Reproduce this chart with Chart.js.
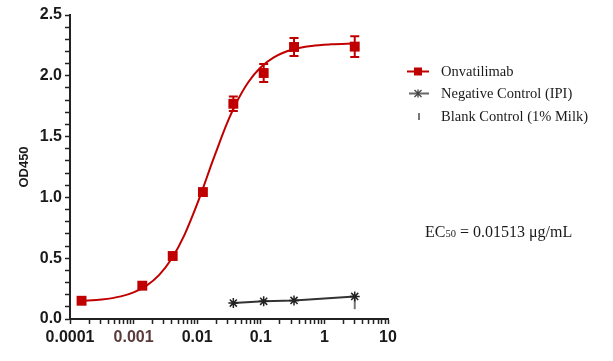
<!DOCTYPE html>
<html><head><meta charset="utf-8">
<script src="https://cdn.jsdelivr.net/npm/chart.js@4.4.1/dist/chart.umd.min.js"></script>
<style>html,body{margin:0;padding:0;background:#fff}#wrap{width:613px;height:361px;position:relative}</style>
</head><body><div id="wrap"><canvas id="c" width="613" height="361"></canvas></div>
<script>
// ---- data ----
const concentrations = [0.000152, 0.00137, 0.00412, 0.0123, 0.037, 0.111, 0.333, 3];
const onvatilimabOD = [0.15, 0.274, 0.518, 1.044, 1.77, 2.023, 2.237, 2.24];
const onvatilimabSD = [0, 0, 0, 0, 0.06, 0.074, 0.074, 0.085];
const negConcentrations = [0.037, 0.111, 0.333, 3];
const negativeOD = [0.131, 0.145, 0.153, 0.186];
const blankConcentrations = [3];
const blankOD = [0.122];
const fitX = [0.000152, 0.000316, 0.000631, 0.001, 0.00158, 0.00251, 0.00398, 0.00631, 0.01, 0.0126, 0.0158, 0.02, 0.0251, 0.0316, 0.0398, 0.0631, 0.1, 0.158, 0.316, 0.631, 1.26, 3];
const fitY = [0.148, 0.16, 0.186, 0.219, 0.273, 0.361, 0.497, 0.692, 0.946, 1.088, 1.235, 1.38, 1.519, 1.647, 1.762, 1.945, 2.07, 2.15, 2.216, 2.246, 2.259, 2.266];
const xTickValues = [0.0001, 0.001, 0.01, 0.1, 1, 10];
const xTickLabels = ['0.0001', '0.001', '0.01', '0.1', '1', '10'];
const xMinorMultipliers = [2, 3, 4, 5, 6, 7, 8, 9];
const yTickValues = [0, 0.5, 1, 1.5, 2, 2.5];
const yTickLabels = ['0.0', '0.5', '1.0', '1.5', '2.0', '2.5'];
const yMinorStep = 0.1;
const yTitle = 'OD450';
const seriesNames = ['Onvatilimab', 'Negative Control (IPI)', 'Blank Control (1% Milk)'];
const ec50Parts = ['EC', '50', ' = 0.01513 \u03bcg/mL'];

const RED = '#c00000';
const pts = (xs, ys) => xs.map((x, i) => ({x: x, y: ys[i]}));

const errorBars = {
  id: 'errorBars',
  afterDatasetsDraw(chart) {
    const meta = chart.getDatasetMeta(1);
    const ys = chart.scales.y;
    const ctx = chart.ctx;
    ctx.save();
    ctx.strokeStyle = RED; ctx.lineWidth = 2;
    meta.data.forEach((p, i) => {
      const e = onvatilimabSD[i];
      if (!e) return;
      const v = onvatilimabOD[i];
      const y1 = ys.getPixelForValue(v + e), y2 = ys.getPixelForValue(v - e);
      ctx.beginPath();
      ctx.moveTo(p.x, y1); ctx.lineTo(p.x, y2);
      ctx.moveTo(p.x - 4.5, y1); ctx.lineTo(p.x + 4.5, y1);
      ctx.moveTo(p.x - 4.5, y2); ctx.lineTo(p.x + 4.5, y2);
      ctx.stroke();
    });
    ctx.restore();
  }
};

const sideNotes = {
  id: 'sideNotes',
  afterDraw(chart) {
    const ctx = chart.ctx;
    ctx.save();
    const rowY = [71.5, 93.5, 116.5];
    const mx = 418, tx = 441;
    // row 1
    ctx.strokeStyle = RED; ctx.lineWidth = 2;
    ctx.beginPath(); ctx.moveTo(407, rowY[0]); ctx.lineTo(429, rowY[0]); ctx.stroke();
    ctx.fillStyle = RED; ctx.fillRect(mx - 4, rowY[0] - 4, 8, 8);
    // row 2
    ctx.strokeStyle = '#666'; ctx.lineWidth = 2;
    ctx.beginPath(); ctx.moveTo(409, rowY[1]); ctx.lineTo(429, rowY[1]); ctx.stroke();
    ctx.strokeStyle = '#444'; ctx.lineWidth = 1.3;
    ctx.beginPath();
    ctx.moveTo(mx - 3.5, rowY[1] - 3.5); ctx.lineTo(mx + 3.5, rowY[1] + 3.5);
    ctx.moveTo(mx + 3.5, rowY[1] - 3.5); ctx.lineTo(mx - 3.5, rowY[1] + 3.5);
    ctx.moveTo(mx, rowY[1] - 4); ctx.lineTo(mx, rowY[1] + 4);
    ctx.stroke();
    // row 3
    ctx.strokeStyle = '#777'; ctx.lineWidth = 2;
    ctx.beginPath(); ctx.moveTo(mx + 1, rowY[2] - 3.5); ctx.lineTo(mx + 1, rowY[2] + 3.5); ctx.stroke();
    ctx.fillStyle = '#1a1a1a';
    ctx.font = '14.5px "Liberation Serif", "Times New Roman", serif';
    ctx.textBaseline = 'middle';
    seriesNames.forEach((n, i) => ctx.fillText(n, tx, rowY[i] + 0.5));
    // EC50 annotation
    ctx.textBaseline = 'alphabetic';
    let x = 425; const by = 237;
    ctx.font = '16px "Liberation Serif", "Times New Roman", serif';
    ctx.fillText(ec50Parts[0], x, by); x += ctx.measureText(ec50Parts[0]).width;
    ctx.font = '10.5px "Liberation Serif", "Times New Roman", serif';
    ctx.fillText(ec50Parts[1], x, by); x += ctx.measureText(ec50Parts[1]).width;
    ctx.font = '16px "Liberation Serif", "Times New Roman", serif';
    ctx.fillText(ec50Parts[2], x, by);
    ctx.restore();
  }
};

const tickFont = {family: '"Liberation Sans", Arial, sans-serif', size: 16, weight: 'bold'};

new Chart(document.getElementById('c'), {
  data: {
    datasets: [
      {type: 'line', label: 'fit', data: pts(fitX, fitY), borderColor: RED, borderWidth: 2, pointRadius: 0,
       cubicInterpolationMode: 'monotone', fill: false, order: 3},
      {type: 'line', label: seriesNames[0], data: pts(concentrations, onvatilimabOD), showLine: false,
       pointStyle: 'rect', pointRadius: 7, backgroundColor: RED, borderColor: RED, borderWidth: 0, order: 1},
      {type: 'line', label: seriesNames[1], data: pts(negConcentrations, negativeOD), borderColor: '#333',
       borderWidth: 2, pointStyle: 'star', pointRadius: 5, pointBorderColor: '#222', pointBorderWidth: 1.5,
       pointBackgroundColor: '#222', tension: 0, order: 2},
      {type: 'line', label: seriesNames[2], data: pts(blankConcentrations, blankOD), showLine: false,
       pointStyle: 'line', rotation: 90, pointRadius: 5, borderColor: '#777', pointBorderWidth: 2, order: 4}
    ]
  },
  options: {
    responsive: false, animation: false, devicePixelRatio: 1,
    layout: {padding: {left: 0, right: 225, top: 15, bottom: 0}},
    plugins: {legend: {display: false}, tooltip: {enabled: false}},
    scales: {
      x: {
        type: 'logarithmic', min: xTickValues[0], max: xTickValues[xTickValues.length - 1],
        afterBuildTicks(s) {
          const t = [];
          xTickValues.forEach((v, i) => {
            t.push({value: v});
            if (i < xTickValues.length - 1) xMinorMultipliers.forEach(m => t.push({value: +(v * m).toPrecision(6)}));
          });
          s.ticks = t;
        },
        afterFit(s) { s.height = 42; },
        ticks: {
          autoSkip: false, maxRotation: 0, minRotation: 0, padding: 4, font: tickFont,
          color: (c) => (c.tick && Math.abs(c.tick.value - 0.001) < 1e-9) ? '#5a3a3a' : '#1a1a1a',
          callback(v) {
            const i = xTickValues.findIndex(t => Math.abs(t - v) / t < 1e-6);
            return i >= 0 ? xTickLabels[i] : '';
          }
        },
        grid: {drawOnChartArea: false, drawTicks: true, tickLength: 5, tickColor: '#222', tickWidth: 1.5},
        border: {display: true, color: '#222', width: 2}
      },
      y: {
        type: 'linear', min: yTickValues[0], max: yTickValues[yTickValues.length - 1],
        afterFit(s) { s.width = 70; },
        ticks: {
          stepSize: yMinorStep, autoSkip: false, padding: 3, font: tickFont, color: '#1a1a1a',
          callback(v) {
            const i = yTickValues.findIndex(t => Math.abs(t - v) < 1e-6);
            return i >= 0 ? yTickLabels[i] : '';
          }
        },
        title: {display: true, text: yTitle, color: '#1a1a1a', padding: {top: 17, bottom: 0},
                font: {family: '"Liberation Sans", Arial, sans-serif', size: 13, weight: 'bold'}},
        grid: {drawOnChartArea: false, drawTicks: true, tickLength: 5, tickColor: '#222', tickWidth: 1.5},
        border: {display: true, color: '#222', width: 2}
      }
    }
  },
  plugins: [errorBars, sideNotes]
});
</script>
</body></html>
